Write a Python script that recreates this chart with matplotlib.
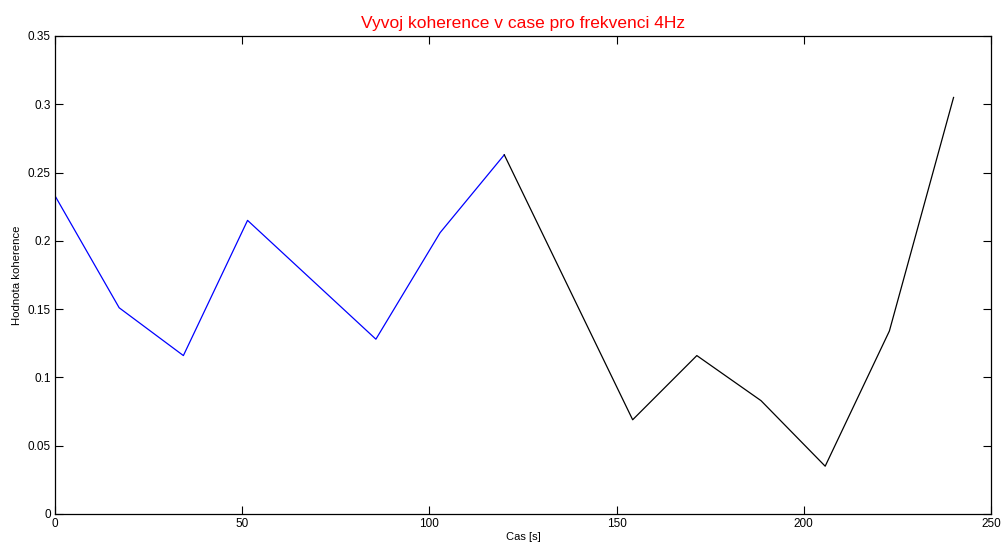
import matplotlib
matplotlib.use("Agg")
import matplotlib.pyplot as plt

plt.rcParams['font.family'] = ['Liberation Sans', 'DejaVu Sans']

time_blue = [0, 17.14, 34.29, 51.43, 85.71, 102.86, 120.0]
coh_blue = [0.233, 0.151, 0.116, 0.215, 0.128, 0.206, 0.263]
time_black = [120.0, 154.29, 171.43, 188.57, 205.71, 222.86, 240.0]
coh_black = [0.263, 0.069, 0.116, 0.083, 0.035, 0.134, 0.305]

xticks = [0, 50, 100, 150, 200, 250]
yticks = [0, 0.05, 0.1, 0.15, 0.2, 0.25, 0.3, 0.35]
yticklabels = ['0', '0.05', '0.1', '0.15', '0.2', '0.25', '0.3', '0.35']

fig = plt.figure(figsize=(10.05, 5.48), dpi=100)
ax = fig.add_axes([55/1005, 1-514/548, (991-55)/1005, (514-36)/548])
ax.plot(time_blue, coh_blue, color='#0000ff', lw=0.9)
ax.plot(time_black, coh_black, color='black', lw=0.9)
ax.set_xlim(0, 250)
ax.set_ylim(0, 0.35)
ax.set_xticks(xticks)
ax.set_xticklabels([str(t) for t in xticks])
ax.set_yticks(yticks)
ax.set_yticklabels(yticklabels)
ax.tick_params(direction='in', length=6, width=0.8, labelsize=8.5, top=True, right=True, pad=3)
for s in ax.spines.values():
    s.set_linewidth(0.9)
ax.set_title('Vyvoj koherence v case pro frekvenci 4Hz', color='red', fontsize=12.5, pad=6)
ax.set_xlabel('Cas [s]', fontsize=8, labelpad=1)
ax.set_ylabel('Hodnota koherence', fontsize=8.2, labelpad=4)
fig.savefig('out.png', dpi=100)
